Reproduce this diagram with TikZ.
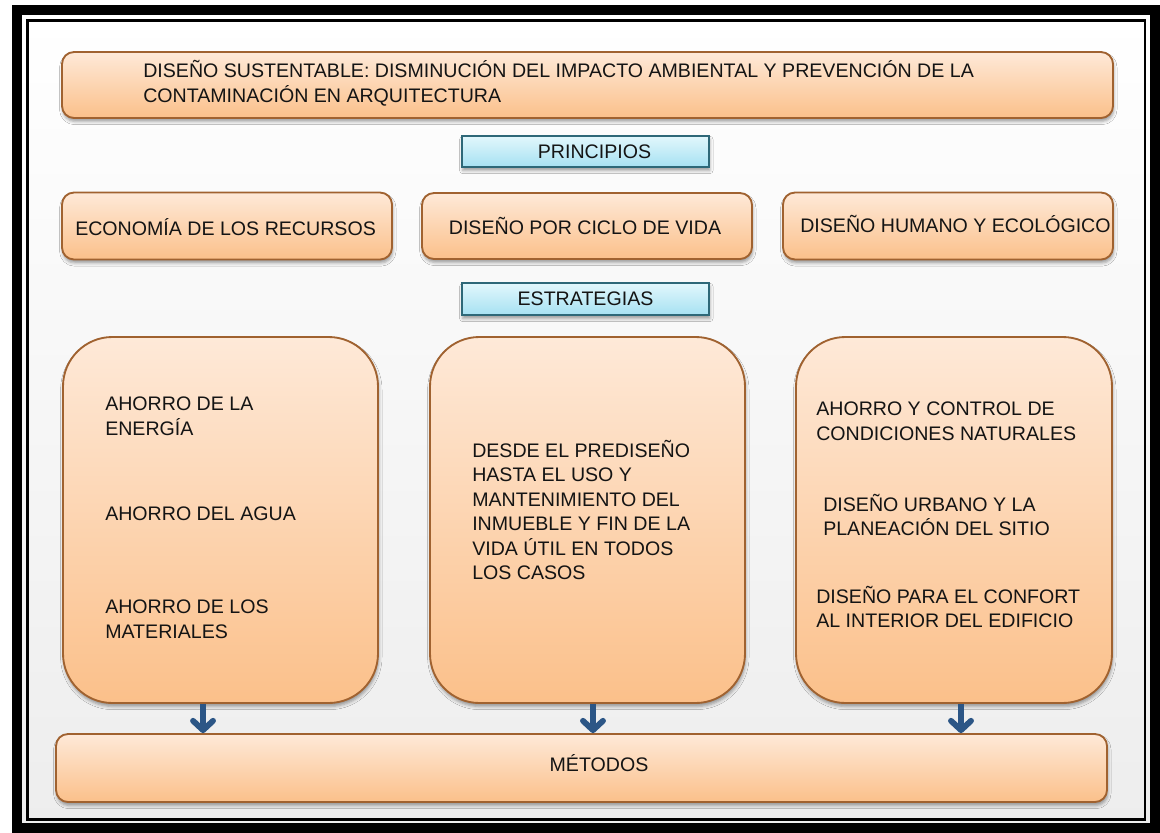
\documentclass[tikz,border=0pt]{standalone}
\usepackage{fontspec}
\setmainfont{Liberation Sans}
\usetikzlibrary{arrows.meta,shadows.blur}
\definecolor{otop}{HTML}{FEE9D8}
\definecolor{obot}{HTML}{FBC08A}
\definecolor{obrown}{RGB}{160,98,48}
\definecolor{ctop}{HTML}{E2F7FC}
\definecolor{cbot}{HTML}{A6E1F2}
\definecolor{cteal}{RGB}{46,104,120}
\definecolor{arrowblue}{RGB}{44,86,134}
\definecolor{txtc}{HTML}{141414}
\tikzset{
  sh/.style={blur shadow={shadow xshift=0.6pt, shadow yshift=-2.6pt, shadow blur radius=2.4pt, shadow opacity=38}},
  obox/.style={draw=obrown, line width=1.4pt, top color=otop, bottom color=obot, rounded corners=9pt, sh, inner sep=0pt},
  bigbox/.style={obox, rounded corners=37pt},
  cbox/.style={draw=cteal, line width=1.6pt, top color=ctop, bottom color=cbot, sh, inner sep=0pt},
  txt/.style={inner sep=0pt, text=txtc, font=\fontsize{14.7pt}{18.4pt}\selectfont, align=left},
  arr/.style={draw=arrowblue, line width=4.4pt, -{Straight Barb[length=7pt,width=15pt,line cap=round,line join=round]}},
}
\begin{document}
\begin{tikzpicture}[x=0.75pt,y=-0.75pt]
\useasboundingbox (0,0) rectangle (1160,832);
% background
\fill[white] (0,0) rectangle (1160,832);
\shade[top color=white, bottom color=black!7] (22,15) rectangle (1150,823);
% frame
\draw[line width=7.5pt, black] (17,10) rectangle (1155,828);
\draw[line width=2.2pt, black] (27.5,20.5) rectangle (1145,819.5);

% title
\node[obox, minimum width=788.25pt, minimum height=49.5pt] (title) at (587.5,85) {};
\node[txt, anchor=west] (titletxt) at (143,83) {DISEÑO SUSTENTABLE: DISMINUCIÓN DEL IMPACTO AMBIENTAL Y PREVENCIÓN DE LA\\CONTAMINACIÓN EN ARQUITECTURA};

% principios
\node[cbox, minimum width=185.25pt, minimum height=23.25pt] (prin) at (585.5,151.5) {};
\node[txt] (printxt) at (594.5,152) {PRINCIPIOS};

% row of principles
\node[obox, minimum width=247.5pt, minimum height=50.25pt] (eco) at (227,226) {};
\node[txt, anchor=west] (ecotxt) at (75,227) {ECONOMÍA DE LOS RECURSOS};
\node[obox, minimum width=247.5pt, minimum height=49.5pt] (ciclo) at (587,226) {};
\node[txt] (ciclotxt) at (585,226) {DISEÑO POR CICLO DE VIDA};
\node[obox, minimum width=247.5pt, minimum height=50.25pt] (hum) at (948,226) {};
\node[txt, anchor=west] (humtxt) at (800,224) {DISEÑO HUMANO Y ECOLÓGICO};

% estrategias
\node[cbox, minimum width=185.25pt, minimum height=24pt] (estr) at (585.5,299) {};
\node[txt] (estrtxt) at (585.5,299) {ESTRATEGIAS};

% big boxes
\node[bigbox, minimum width=236.25pt, minimum height=274.5pt] (bl) at (220.5,520) {};
\node[bigbox, minimum width=236.25pt, minimum height=274.5pt] (bm) at (587.5,520) {};
\node[bigbox, minimum width=237pt, minimum height=274.5pt] (br) at (954,520) {};

\node[txt, anchor=west] (bl1) at (105,416) {AHORRO DE LA\\ENERGÍA};
\node[txt, anchor=west] (bl2) at (105,514) {AHORRO DEL AGUA};
\node[txt, anchor=west] (bl3) at (105,619.5) {AHORRO DE LOS\\MATERIALES};

\node[txt, anchor=west] (bm1) at (472,510) {DESDE EL PREDISEÑO\\HASTA EL USO Y\\MANTENIMIENTO DEL\\INMUEBLE Y FIN DE LA\\VIDA ÚTIL EN TODOS\\LOS CASOS};

\node[txt, anchor=west] (br1) at (816,421.5) {AHORRO Y CONTROL DE\\CONDICIONES NATURALES};
\node[txt, anchor=west] (br2) at (823,515) {DISEÑO URBANO Y LA\\PLANEACIÓN DEL SITIO};
\node[txt, anchor=west] (br3) at (816,607) {DISEÑO PARA EL CONFORT\\AL INTERIOR DEL EDIFICIO};

% metodos
\node[obox, minimum width=788.25pt, minimum height=51pt] (met) at (581.5,768) {};
\node[txt] (mettxt) at (599,763) {MÉTODOS};

% arrows
\draw[arr] ([xshift=-13.1pt]bl.south) -- ([xshift=-13.1pt]bl.south |- met.north);
\draw[arr] ([xshift=4.1pt]bm.south) -- ([xshift=4.1pt]bm.south |- met.north);
\draw[arr] ([xshift=5.25pt]br.south) -- ([xshift=5.25pt]br.south |- met.north);
\end{tikzpicture}
\end{document}
